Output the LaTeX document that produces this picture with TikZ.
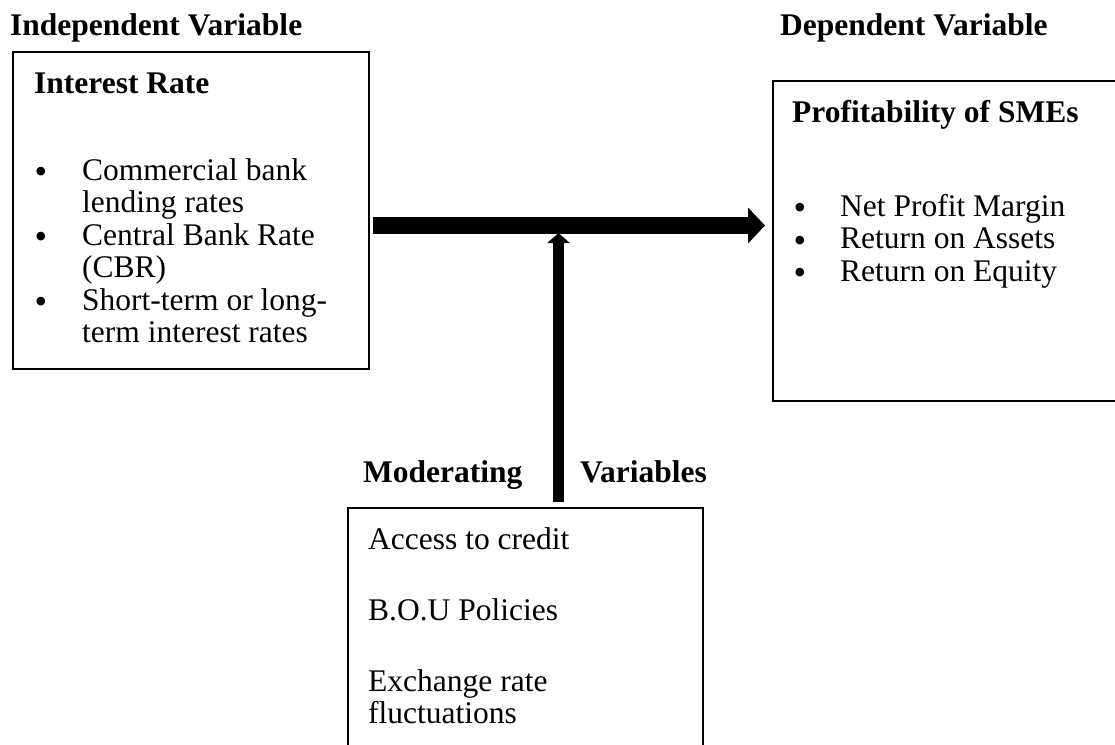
\documentclass[tikz,border=0pt]{standalone}
\usepackage{fontspec}
\setmainfont{Liberation Serif}
\usetikzlibrary{arrows.meta}
\begin{document}
\begin{tikzpicture}[x=1pt,y=-1pt,
  txt/.style={anchor=base west, inner sep=0pt, font=\fontsize{31.5pt}{33pt}\selectfont},
  hdr/.style={anchor=base west, inner sep=0pt, font=\fontsize{31.5pt}{33pt}\selectfont\bfseries},
  bul/.style={anchor=base, inner sep=0pt, yshift=-3.5pt, font=\fontsize{36pt}{36pt}\selectfont},
  box/.style={draw, line width=1.8pt, anchor=north west, inner sep=0pt},
  bigarrow/.style={line width=17pt, -{Triangle[length=17pt 0, width=35pt 0]}},
  smallarrow/.style={line width=11pt, -{Triangle[length=10pt 0, width=22pt 0]}}]
\useasboundingbox (0,0) rectangle (1115,744);

% titles
\node[hdr] (indep) at (10,35) {Independent Variable};
\node[hdr] (dep) at (780,35) {Dependent Variable};

% boxes
\node[box, minimum width=356pt, minimum height=317pt] (ibox) at (12,51) {};
\node[box, minimum width=360pt, minimum height=320pt] (dbox) at (772,80) {};
\node[box, minimum width=355pt, minimum height=260pt] (mbox) at (347,507) {};

% independent box content
\node[hdr] (irate) at (34,93) {Interest Rate};
\node[bul] (ib1) at (41,180) {•};
\node[txt] (i1a) at (82,180) {Commercial bank};
\node[txt] (i1b) at (82,212.5) {lending rates};
\node[bul] (ib2) at (41,245) {•};
\node[txt] (i2a) at (82,245) {Central Bank Rate};
\node[txt] (i2b) at (82,277.5) {(CBR)};
\node[bul] (ib3) at (41,310) {•};
\node[txt] (i3a) at (82,310) {Short-term or long-};
\node[txt] (i3b) at (82,342.5) {term interest rates};

% dependent box content
\node[hdr] (prof) at (792,122) {Profitability of SMEs};
\node[bul] (db1) at (800,216) {•};
\node[txt] (d1) at (840,216) {Net Profit Margin};
\node[bul] (db2) at (800,248.5) {•};
\node[txt] (d2) at (840,248.5) {Return on Assets};
\node[bul] (db3) at (800,281) {•};
\node[txt] (d3) at (840,281) {Return on Equity};

% moderating
\node[hdr] (modl) at (363,482) {Moderating};
\node[hdr] (modr) at (580,482) {Variables};
\node[txt] (m1) at (368,549) {Access to credit};
\node[txt] (m2) at (368,620) {B.O.U Policies};
\node[txt] (m3a) at (368,691) {Exchange rate};
\node[txt] (m3b) at (368,723.5) {fluctuations};

% arrows
\coordinate (hs) at (373,225.5);
\coordinate (ht) at (765,225.5);
\coordinate (vs) at (558.5,502);
\coordinate (vt) at (558.5,233);
\draw[bigarrow] (hs) -- (ht);
\draw[smallarrow] (vs) -- (vt);
\end{tikzpicture}
\end{document}
